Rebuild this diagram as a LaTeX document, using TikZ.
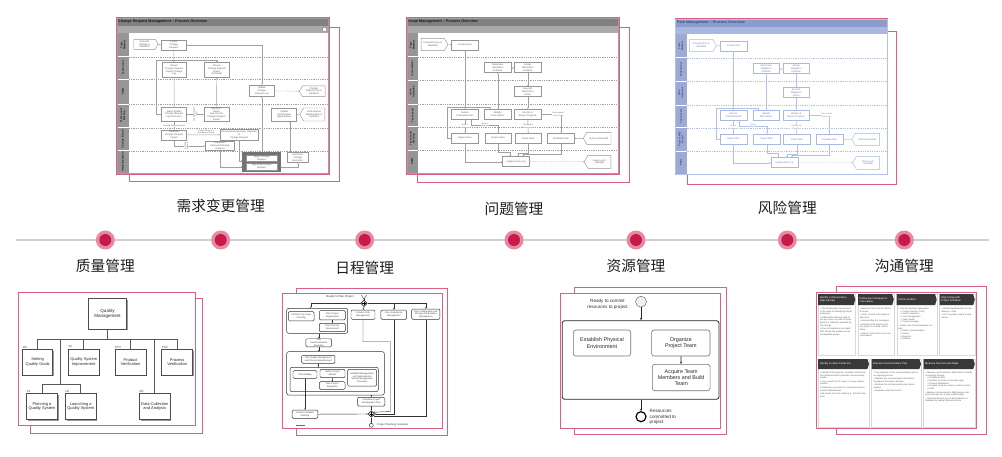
\documentclass[tikz,border=0pt]{standalone}
\usepackage{fontspec}
\setmainfont{Liberation Sans}
\newfontfamily\cjk{Noto Sans CJK SC}
\usetikzlibrary{shapes.symbols,shapes.geometric,arrows.meta,calc,shadows}
\definecolor{fpink}{RGB}{216,98,128}
\definecolor{dotin}{RGB}{198,26,74}
\definecolor{dotout}{RGB}{230,138,160}
\definecolor{tline}{RGB}{208,208,208}
\definecolor{lbl}{RGB}{30,30,30}
\definecolor{gHdr}{RGB}{128,128,128}
\definecolor{gBand}{RGB}{170,170,170}
\definecolor{gLane}{RGB}{150,150,150}
\definecolor{gBox}{RGB}{150,150,150}
\definecolor{gLn}{RGB}{160,160,160}
\definecolor{gTx}{RGB}{95,95,95}
\definecolor{gTtl}{RGB}{25,25,25}
\definecolor{bHdr}{RGB}{140,156,204}
\definecolor{bBand}{RGB}{170,183,222}
\definecolor{bLane}{RGB}{158,170,212}
\definecolor{bBox}{RGB}{170,185,225}
\definecolor{bLn}{RGB}{180,193,230}
\definecolor{bTx}{RGB}{110,125,180}
\definecolor{bTtl}{RGB}{60,75,140}
\colorlet{hdrc}{gHdr}\colorlet{bandc}{gBand}\colorlet{lanec}{gLane}
\colorlet{bxc}{gBox}\colorlet{lnc}{gLn}\colorlet{txc}{gTx}\colorlet{ttlc}{gTtl}
\newcommand\fs[2]{\fontsize{#1}{#2}\selectfont}
\tikzset{
  pframe/.style={draw=fpink,line width=0.9pt,fill=white},
  bframe/.style={draw=fpink,line width=0.9pt},
  tdot/.style={circle,fill=dotout,minimum size=19pt,inner sep=0pt},
  tdotin/.style={circle,fill=dotin,minimum size=12pt,inner sep=0pt},
  tlabel/.style={font=\cjk\fs{14.7}{16},text=lbl,inner sep=0pt},
  lbox/.style={draw=bxc,line width=0.45pt,fill=white,inner sep=0.4pt,font=\fs{2.4}{2.8},text=txc,align=center},
  lb/.style={lbox,minimum width=26.6pt,minimum height=10pt},
  lsigR/.style={lbox,signal,signal to=east,signal pointer angle=120},
  lsigL/.style={lbox,signal,signal to=west,signal pointer angle=120},
  lconn/.style={draw=lnc,line width=0.4pt,-{Stealth[length=1.4pt,width=1.2pt]}},
  lline/.style={draw=lnc,line width=0.4pt},
  ltiny/.style={font=\fs{1.9}{2.2},text=txc,align=center,inner sep=0.2pt,fill=white},
  lanelbl/.style={rotate=90,font=\bfseries\fs{2.6}{3},text=ttlc,align=center,inner sep=0pt},
  qbox/.style={draw=black!70,line width=0.5pt,fill=white,drop shadow={shadow xshift=1.2pt,shadow yshift=-1.2pt,fill=black!40,opacity=1},font=\fs{4}{4.6},align=center,inner sep=0.5pt,text=black!85},
  qline/.style={draw=black!65,line width=0.5pt},
  qlab/.style={font=\fs{3}{3.4},text=black!75,inner sep=0pt},
  sbox/.style={draw=black!80,line width=0.45pt,rounded corners=1.2pt,fill=white,font=\fs{2.3}{2.7},align=center,inner sep=0.3pt,text=black!75},
  sgrp/.style={draw=black!80,line width=0.5pt,rounded corners=2pt},
  sarr/.style={draw=black!80,line width=0.4pt,-{Stealth[length=1.5pt,width=1.3pt]}},
  sline/.style={draw=black!80,line width=0.4pt},
  rbox/.style={draw=black!55,line width=0.6pt,rounded corners=2.5pt,fill=white,font=\fs{5.4}{6.4},align=center,text=black!85,inner sep=0.5pt},
  rarr/.style={draw=black!85,line width=0.6pt,-{Stealth[length=2.4pt,width=2pt]}},
  cbody/.style={fill=white,draw=black!15,line width=0.3pt,drop shadow={shadow xshift=0.8pt,shadow yshift=-0.8pt,fill=black!30,opacity=1}},
  cbt/.style={font=\fs{2.2}{2.7},text=black!65,align=left,inner sep=0pt,anchor=north west},
}
\newcommand\chead[6]{%
 \fill[black!78] (#1,#3) -- ({#2-1.6},#3) -- (#2,{(#3+#4)/2}) -- ({#2-1.6},#4) -- (#1,#4) -- cycle;
 \node[anchor=west,font=\fs{2.6}{3},text=white,align=left,inner sep=0pt] (#5) at ({#1+1.5},{(#3+#4)/2}) {#6};}
\newcommand\lanediag[4]{%
 \fill[hdrc] (0.7,0.9) rectangle (212.3,8.4);
 \fill[bandc] (0.7,8.4) rectangle (212.3,16);
 \node[anchor=west,font=\bfseries\fs{3.7}{4.2},text=ttlc,inner sep=0pt] (ttl) at (2.5,4.7) {#1 Management -- Process Overview};
 \fill[lanec] (0.7,16) rectangle (12,156);
 \foreach \yy in {39.4,62.7,86.7,109.4,132.7}{%
   \draw[white,line width=0.6pt] (0.7,\yy) -- (12,\yy);
   \draw[lnc,line width=0.35pt,dash pattern=on 1pt off 0.8pt] (12,\yy) -- (212.3,\yy);}%
 \draw[lnc,line width=0.4pt] (0.7,0.9) rectangle (212.3,156);
 \node[lanelbl] (ln1) at (6.35,27.7) {Team\\Member};
 \node[lanelbl] (ln2) at (6.35,51.05) {#1 Owner};
 \node[lanelbl] (ln3) at (6.35,74.7) {#1\\Assignee};
 \node[lanelbl] (ln4) at (6.35,98.05) {Team Lead};
 \node[lanelbl] (ln5) at (6.35,121.05) {#3};
 \node[lanelbl] (ln6) at (6.35,144.35) {#4};
 \node[lsigR,minimum width=26.7pt,minimum height=12.4pt] (p1) at (26.7,27.2) {Potential #1 is\\Identified};
 \node[lb] (cre) at (59,27.7) {Create #1};
 \node[lb] (det) at (91.7,50.4) {Determine\\#2\\Activities};
 \node[lb] (asg) at (121.7,50.4) {Assign\\#2\\Activities};
 \node[lb] (exe) at (121.7,74.4) {Execute\\#2\\Action};
 \node[lb] (ass) at (59,97) {Assess\\Potential #1s};
 \node[lb] (idf) at (91.7,97) {Identify\\#1 Owner};
 \node[lb] (mon) at (121.7,97) {Monitor \&\\Report Progress};
 \node[lb] (rj1) at (59,121) {Reject #1};
 \node[lb] (rj2) at (92.3,121) {Reject #1};
 \node[lb] (cls) at (122.3,121) {Close #1};
 \node[lb] (esc) at (155,121) {Escalate #1};
 \node[lsigL,minimum width=27.7pt,minimum height=12pt] (p2) at (192.9,121) {#1 is Resolved};
 \node[lb] (upd) at (110,144.4) {Update #1 Log};
 \node[lsigL,minimum width=26.7pt,minimum height=13pt] (p3) at (193.4,144.5) {#1 Log is\\Updated};
 \draw[lconn] (p1) -- (cre);
 \draw[lconn] (cre) -- (ass);
 \draw[lconn] (idf) -- (det);
 \draw[lconn] (det) -- (asg);
 \draw[lconn] (asg) -- (exe);
 \draw[lconn] (exe) -- (mon);
 \draw[lconn] (rj1.west) -| (41.5,89.4) -| ([xshift=-7.7pt]idf.north);
 \draw[lconn] (ass) -- node[ltiny]{#1 is\\Confirmed} (rj1);
 \draw[lconn] ([xshift=6pt]ass.south) |- (92.3,107.8) -- (rj2.north);
 \node[ltiny] (lrj) at (79,107.8) {#1 is\\Rejected};
 \draw[lconn] (mon) -- node[ltiny]{Resolved \&\\Close #1} (cls);
 \draw[lconn] (mon.east) -| (esc.north);
 \node[ltiny] (lesc) at (152,97) {Not resolved\\in Due Time};
 \draw[lconn] (p2) -- (esc);
 \draw[lconn] (rj1.south) |- (upd.west);
 \draw[lconn] (rj2.south) |- ([xshift=-6pt,yshift=4.5pt]upd.north) -- ([xshift=-6pt]upd.north);
 \draw[lconn] (cls.south) |- ([xshift=2.3pt,yshift=3.5pt]upd.north) -- ([xshift=2.3pt]upd.north);
 \draw[lconn] (esc.south) |- ([xshift=7.3pt,yshift=2.5pt]upd.north) -- ([xshift=7.3pt]upd.north);
 \draw[lconn,dash pattern=on 1pt off 0.8pt] (upd) -- (p3);
}
\begin{document}
\begin{tikzpicture}[x=1pt,y=-1pt]
\useasboundingbox (0,0) rectangle (1002,456);

% ================= timeline =================
\draw[tline,line width=1.5pt] (15.7,240) -- (989.3,240);
\node[tdot] (d1) at (105.3,240) {};\node[tdotin] (d1c) at (d1) {};
\node[tdot] (d2) at (220.7,240) {};\node[tdotin] (d2c) at (d2) {};
\node[tdot] (d3) at (364.7,240) {};\node[tdotin] (d3c) at (d3) {};
\node[tdot] (d4) at (514,240) {};\node[tdotin] (d4c) at (d4) {};
\node[tdot] (d5) at (636,240) {};\node[tdotin] (d5c) at (d5) {};
\node[tdot] (d6) at (787.3,240) {};\node[tdotin] (d6c) at (d6) {};
\node[tdot] (d7) at (904.3,240) {};\node[tdotin] (d7c) at (d7) {};
\node[tlabel] (t1) at (105.3,266) {质量管理};
\node[tlabel] (t2) at (220.7,205.5) {需求变更管理};
\node[tlabel] (t3) at (364.7,267.5) {日程管理};
\node[tlabel] (t4) at (514,208.8) {问题管理};
\node[tlabel] (t5) at (636,266) {资源管理};
\node[tlabel] (t6) at (787.3,207.5) {风险管理};
\node[tlabel] (t7) at (904.3,266) {沟通管理};

% ================= Change Request thumbnail =================
\draw[bframe] (129,27) rectangle (339,181);
\draw[pframe] (116,17.3) rectangle (329,174);
\fill[gHdr] (116.8,18.2) rectangle (328.2,25.8);
\fill[gBand] (116.8,25.8) rectangle (328.2,33.3);
\node[anchor=west,font=\bfseries\fs{3.7}{4.2},text=gTtl,inner sep=0pt] (crt) at (118,22) {Change Request Management -- Process Overview};
\node[circle,draw=black!50,fill=white,line width=0.4pt,minimum size=4.5pt,inner sep=0pt] (cric) at (324.5,29.5) {};
\fill[gLane] (116.8,33.3) rectangle (129,173.3);
\foreach \yy in {56.7,79.3,104,127.7,150.7}{%
  \draw[white,line width=0.6pt] (116.8,\yy) -- (129,\yy);
  \draw[gLn,line width=0.35pt,dash pattern=on 1pt off 0.8pt] (129,\yy) -- (328.2,\yy);}
\draw[gLn,line width=0.4pt] (116.8,18.2) rectangle (328.2,173.3);
\node[lanelbl] (crl1) at (122.9,45) {Team\\Member};
\node[lanelbl] (crl2) at (122.9,68) {Team Lead};
\node[lanelbl] (crl3) at (122.9,91.65) {PMB};
\node[lanelbl] (crl4) at (122.9,115.85) {Team Lead\\Meeting};
\node[lanelbl] (crl5) at (122.9,139.2) {Change Board};
\node[lanelbl] (crl6) at (122.9,162) {Implementation};
\node[lsigR,minimum width=24.4pt,minimum height=10pt] (cr1) at (144.5,44.3) {Potential\\Change is\\Identified};
\node[lbox,minimum width=25.3pt,minimum height=10pt] (cr2) at (173.7,45) {Create\\Change\\Request};
\node[lbox,minimum width=24pt,minimum height=14.6pt] (cr3) at (174,70) {Review\\Change Request\\Impact Change\\Log};
\node[lbox,minimum width=25pt,minimum height=14.6pt] (cr4) at (216.8,70) {Review\\Change Request\\Impact\\(Detailed)};
\node[lbox,minimum width=24.7pt,minimum height=11.7pt] (cr5) at (261.7,90.8) {Update\\Change\\Request Log};
\node[lsigL,minimum width=25.7pt,minimum height=10.7pt] (cr6) at (313.8,91.3) {Change\\Request Log is\\Updated};
\node[lbox,minimum width=25pt,minimum height=14.7pt] (cr7) at (174.2,114.3) {Select Quality\\Change Request\\Input Decision};
\node[lbox,minimum width=25pt,minimum height=14.7pt] (cr8) at (216.5,114.3) {Replace /\\Reject\\Approve the\\Change Request\\Impact};
\node[lbox,minimum width=25pt,minimum height=13pt] (cr9) at (284.2,114.5) {Update\\Performance\\Mgt Baseline};
\node[lsigL,minimum width=25pt,minimum height=13pt] (cr10) at (314.2,114.5) {Performance\\Mgt Baseline is\\Updated};
\node[lbox,minimum width=25pt,minimum height=10pt] (cr11) at (174.2,135) {Evaluate\\Change Request\\Impact};
\node[lbox,minimum width=38.3pt,minimum height=10.7pt] (cr12) at (239.2,134.7) {Recommend Approval / Rejection\\of\\Change Request};
\node[lbox,minimum width=29.4pt,minimum height=8.3pt] (cr13) at (220,145.8) {Implement\\Approved Change\\Request};
\node[draw=black!55,fill=black!55,line width=0.5pt,minimum width=38pt,minimum height=19pt,inner sep=0pt] (cr14) at (261.7,162.2) {};
\node[lbox,minimum width=31pt,minimum height=6.5pt] (cr14a) at (261.7,158) {Reject Change\\Request};
\node[lbox,minimum width=31pt,minimum height=6.5pt] (cr14b) at (261.7,166.5) {Approved Change\\Request};
\node[lbox,minimum width=21pt,minimum height=10pt] (cr15) at (297.8,157.7) {Authorize\\Change\\Execution};
\draw[lconn] (cr1) -- (cr2);
\draw[lconn] (cr2.east) -| (cr5.north);
\draw[lconn] (cr2) -- (cr3);
\draw[lconn] (cr3) -- (cr7);
\draw[lconn] (cr7.west) -| (156,60) -| (cr4.north);
\draw[lconn] (cr7) -- (cr8);
\node[ltiny,rotate=90] (crlab1) at (195.3,114.3) {Change Request\\Input};
\draw[lconn] (cr8) -- (cr4);
\draw[lconn] (cr7) -- (cr11);
\node[ltiny] (crlab2) at (174.2,125.7) {Forward Change Request};
\draw[lconn] (cr11) -- (cr12);
\node[ltiny] (crlab3) at (206,132.2) {Change Request is\\forwarded to Board};
\draw[lconn] (cr11.south) |- (cr13.west);
\node[ltiny,rotate=90] (crlab4) at (186.5,146) {Change\\Request};
\draw[lconn] (cr12.south) |- ([yshift=1.5pt]cr14.west);
\draw[lconn] (cr13.south) |- ([yshift=-4.5pt]cr14.west);
\draw[lconn] ([yshift=-4.5pt]cr14.east) -| (cr15.south);
\draw[lconn] ([xshift=-7.8pt]cr15.north) -- ([xshift=5.8pt]cr9.south);
\draw[lconn] (cr10) -- (cr9);
\draw[lconn,dash pattern=on 1pt off 0.8pt] (cr5) -- (cr6);
\draw[lconn] (cr14.north) -- (cr5.south);

% ================= Issue thumbnail =================
\draw[bframe] (417,27) rectangle (629,182.7);
\draw[pframe] (406,17.3) rectangle (619,174);
\begin{scope}[shift={(406,17.3)}]
\lanediag{Issue}{Resolution}{Team Lead\\Meeting}{PMB}
\end{scope}

% ================= Risk thumbnail =================
\draw[bframe] (687.7,31.7) rectangle (896.7,184);
\draw[pframe] (675,18.3) rectangle (887.7,174);
\begin{scope}[shift={(674.5,18.3)}]
\colorlet{hdrc}{bHdr}\colorlet{bandc}{bBand}\colorlet{lanec}{bLane}
\colorlet{bxc}{bBox}\colorlet{lnc}{bLn}\colorlet{txc}{bTx}\colorlet{ttlc}{bTtl}
\lanediag{Risk}{Mitigation}{Project Mgt\\Board}{PMO}
\end{scope}

% ================= Quality thumbnail =================
\draw[bframe] (30.7,298.3) rectangle (202.3,433.7);
\draw[pframe] (18.3,292.3) rectangle (195.7,425);
\coordinate (qh) at (0,339.3);
\coordinate (q2) at (0,384);
\draw[qline] (107.5,329) -- (107.5,339.3);
\draw[qline] (37.7,339.3) -- (177.2,339.3);
\draw[qline] (60.7,339.3) -- (60.7,384);
\draw[qline] (42,384) -- (80.7,384);
\node[qbox,minimum width=38.4pt,minimum height=30.7pt,font=\fs{4.5}{5.2}] (qm) at (107.5,313.7) {Quality\\Management};
\node[qbox,minimum width=30pt,minimum height=25.7pt] (gs) at (37.7,362.2) {Setting\\Quality Goals};
\node[qbox,minimum width=30.7pt,minimum height=25.7pt] (qi) at (83.7,362.2) {Quality System\\Improvement};
\node[qbox,minimum width=31pt,minimum height=25.7pt] (ptv) at (130.5,362.2) {Product\\Verification};
\node[qbox,minimum width=31pt,minimum height=25.7pt] (psv) at (177.2,362.2) {Process\\Verification};
\node[qbox,minimum width=30.6pt,minimum height=26pt] (pl) at (42,406.3) {Planning a\\Quality System};
\node[qbox,minimum width=30.7pt,minimum height=26pt] (la) at (80.7,406.3) {Launching a\\Quality System};
\node[qbox,minimum width=30.7pt,minimum height=26pt] (dc) at (154.7,406.3) {Data Collection\\and Analysis};
\draw[qline] (gs.north) -- (gs.north |- qh);
\draw[qline] (qi.north) -- (qi.north |- qh);
\draw[qline] (ptv.north) -- (ptv.north |- qh);
\draw[qline] (psv.north) -- (psv.north |- qh);
\draw[qline] (pl.north) -- (pl.north |- q2);
\draw[qline] (la.north) -- (la.north |- q2);
\draw[qline] (dc.north) -- (dc.north |- qh);
\node[qlab,anchor=south west] (lgs) at (22.7,348.3) {GS};
\node[qlab,anchor=south west] (lqi) at (68.3,348.3) {QI};
\node[qlab,anchor=south west] (lptv) at (115,348.3) {PTV};
\node[qlab,anchor=south west] (lpsv) at (161.7,348.3) {PSV};
\node[qlab,anchor=south west] (lpl) at (26.7,392.3) {PL};
\node[qlab,anchor=south west] (lla) at (65.3,392.3) {LA};
\node[qlab,anchor=south west] (ldc) at (139.3,392.3) {DC};

% ================= Schedule thumbnail =================
\draw[bframe] (296,288.3) rectangle (447.7,435.7);
\draw[pframe] (282.3,293.3) rectangle (442.3,428.3);
\node[sgrp,minimum width=61pt,minimum height=25pt] (g1) at (317.2,320.8) {};
\node[sgrp,minimum width=97.6pt,minimum height=43.3pt] (g2) at (335.5,373.35) {};
\node[sgrp,minimum width=88.3pt,minimum height=24.4pt] (g3) at (334.15,379.5) {};
\node[font=\fs{2.8}{3.2},text=black!80,inner sep=0pt] (rtp) at (340,296.3) {Ready to Plan Project};
\coordinate (st) at (364,299.3);
\draw[sline] (361.5,295) -- (st) -- (366.5,295);
\node[diamond,draw=black,fill=white,line width=0.5pt,minimum size=6.5pt,inner sep=0pt] (fork) at (364,303.3) {};
\draw[line width=0.8pt] (362.3,303.3) -- (365.7,303.3) (364,301.6) -- (364,305);
\draw[sline] (st) -- (fork.north);
\node[sbox,minimum width=25.7pt,minimum height=9.3pt] (g1a) at (301.2,316.3) {Perform Cap Level\\Planning};
\node[sbox,minimum width=26pt,minimum height=9.3pt] (g1b) at (332.3,315.3) {Plan Project\\Organization};
\node[sbox,minimum width=26pt,minimum height=8.4pt] (g1c) at (332.3,327.5) {Plan Physical\\Environment};
\node[sbox,minimum width=24pt,minimum height=9.3pt] (risk) at (363,314.7) {Conduct Risk\\Management};
\node[sbox,minimum width=25.7pt,minimum height=9.3pt] (acc) at (393.8,314.7) {Plan Acceptance\\Management};
\node[sbox,minimum width=28.3pt,minimum height=10.3pt] (cfg) at (425.8,314.2) {Plan Configuration and\\Change and Baseline\\Management};
\node[sbox,minimum width=25.7pt,minimum height=7.7pt] (comm) at (318.8,342.8) {Plan\\Communications\\Reporting};
\node[sbox,minimum width=33.3pt,minimum height=8pt] (qual) at (318.3,359.3) {Plan Quality Management\\and Process Improvement};
\node[sbox,minimum width=24pt,minimum height=7.6pt] (staff) at (305,374.5) {Plan Staffing};
\node[sbox,minimum width=25pt,minimum height=8.4pt] (models) at (332.5,373.5) {Define Project\\Models};
\node[sbox,minimum width=25.7pt,minimum height=7.6pt] (integ) at (332.2,385.5) {Plan Project\\Integration};
\node[sbox,minimum width=29pt,minimum height=16.7pt] (estab) at (362.2,377.7) {Establish Management\\and Subcontractor\\Vendor Management\\Processes};
\node[sbox,minimum width=27.3pt,minimum height=8.7pt] (cpmp) at (371.3,401.7) {Complete Project\\Management Plan};
\node[sbox,minimum width=25.6pt,minimum height=8.3pt] (pdp) at (305,414.2) {Perform Detailed\\Planning};
\node[diamond,draw=black,fill=white,line width=0.5pt,minimum size=6.5pt,inner sep=0pt] (join) at (371.3,414) {};
\draw[line width=0.8pt] (369.6,414) -- (373,414) (371.3,412.3) -- (371.3,415.7);
\node[circle,draw=black!80,line width=0.5pt,minimum size=4pt,inner sep=0pt] (endc) at (371.3,425.3) {};
\node[anchor=west,font=\fs{2.6}{3},text=black!80,inner sep=0pt] (ppc) at (377,425.3) {Project Planning Complete};
\fill[black!60] (295.7,424.6) rectangle (305,426.2);
\draw[sarr] (fork.west) -| ([xshift=-6.5pt]g1.north);
\draw[sarr] (fork.south) -- (risk.north);
\draw[sarr] (fork.east) -| (acc.north);
\draw[sarr] (fork.east) -| (cfg.north);
\draw[sarr] (g1b) -- (g1c);
\draw[sarr] (comm.north |- g1.south) -- (comm.north);
\draw[sarr] (comm.south) -- (comm.south |- g2.north);
\draw[sarr] (qual.south) -- (qual.south |- g3.north);
\draw[sarr] (models) -- (integ);
\draw[sarr] (cpmp.north |- g2.south) -- (cpmp.north);
\draw[sarr] (cpmp.south) -- (join.north);
\draw[sarr] (staff.south) -- (pdp.north);
\draw[sarr] (pdp.east) -- (join.west);
\draw[sarr] (risk.south) |- (390.5,341.7) -- (390.5,411.5) -- (join.north east);
\draw[sarr] (acc.south) |- (join.east);
\draw[sarr] (cfg.south) |- (join.south east);
\draw[sarr] (join.south) -- (endc.north);

% ================= Resource thumbnail =================
\draw[bframe] (574.3,287.3) rectangle (726,434.3);
\draw[pframe] (560,293.3) rectangle (720.3,428.3);
\node[circle,draw=black!55,fill=black!6,line width=0.5pt,minimum size=11pt,inner sep=0pt] (rs) at (641,301.7) {};
\node[font=\fs{4.6}{5.6},align=center,text=black!80,inner sep=0pt] (rst) at (607.5,304.5) {Ready to commit\\resources to project};
\node[draw=black!85,line width=0.8pt,rounded corners=2.5pt,minimum width=156.7pt,minimum height=78.6pt,inner sep=0pt] (rbig) at (640.65,360) {};
\node[rbox,minimum width=57.4pt,minimum height=26pt] (rest) at (602,343) {Establish Physical\\Environment};
\node[rbox,minimum width=58.3pt,minimum height=26pt] (rorg) at (680.8,343) {Organize\\Project Team};
\node[rbox,minimum width=57.7pt,minimum height=26.4pt] (racq) at (681.2,377.5) {Acquire Team\\Members and Build\\Team};
\node[circle,draw=black,line width=1.2pt,minimum size=10pt,inner sep=0pt] (re) at (641,416.7) {};
\node[anchor=west,font=\fs{4.6}{5.4},align=left,text=black!80,inner sep=0pt] (ret) at (649.5,417) {Resources\\committed to\\project};
\draw[rarr] (rs.south) -- (rs.south |- rbig.north);
\draw[rarr] (rorg) -- (racq);
\draw[rarr] (re.north |- rbig.south) -- (re.north);

% ================= Communication thumbnail =================
\draw[bframe] (836,286) rectangle (986.7,434);
\draw[pframe] (816.7,292.7) rectangle (976,428.3);
\path[cbody] (818.2,294.2) rectangle (855.3,355);
\path[cbody] (858,294.2) rectangle (893.8,355);
\path[cbody] (896.7,294.2) rectangle (936.7,355);
\path[cbody] (939.5,294.2) rectangle (974.8,355);
\path[cbody] (818.2,359) rectangle (869,426.8);
\path[cbody] (871.5,359) rectangle (921,426.8);
\path[cbody] (923.5,359) rectangle (974.8,426.8);
\chead{818.2}{855.3}{294.2}{305}{ch1}{Identify communication\\target groups}
\chead{858}{893.8}{294.2}{305}{ch2}{Define key messages \&\\core values}
\chead{896.7}{936.7}{294.2}{305}{ch3}{Define senders}
\chead{939.5}{974.8}{294.2}{305}{ch4}{Align timing with\\Project Schedule}
\chead{818.2}{869}{359}{369}{ch5}{Identify \& select media mix}
\chead{871.5}{921}{359}{369}{ch6}{Execute Communication Plan}
\chead{923.5}{974.8}{359}{369}{ch7}{Measure Success and Adapt}
\node[cbt,text width=33pt] (cb1) at (820,307.5) {\textbullet\ The Stakeholder Assessment is the basis for identifying target audiences\\[0.8pt]
\textbullet\ Differentiate between high to low key users, as well as those directly \& indirectly impacted by the change\\[0.8pt]
\textbullet\ Once all audiences are identified, cluster the audiences into manageable groups};
\node[cbt,text width=32pt] (cb2) at (859.8,307.5) {\textbullet\ Based on the Case for Action \& Scope\\[0.8pt]
\textbullet\ Clear, concise and easily understood\\[0.8pt]
\textbullet\ Incorporating the messages\\[0.8pt]
\textbullet\ Defined at the beginning of the project to ensure consistency\\[0.8pt]
\textbullet\ Used in some form in all communications};
\node[cbt,text width=36pt] (cb3) at (898.5,307.5) {\textbullet\ Use the existing organisation:\\
\hspace*{2pt}o\ Project sponsor (CxO)\\
\hspace*{2pt}o\ Senior executive\\
\hspace*{2pt}o\ Line management\\
\hspace*{2pt}o\ Team leader\\
\hspace*{2pt}o\ Project manager\\[0.8pt]
\textbullet\ Clarify role of communication expert:\\
\hspace*{2pt}o\ Author communication\\
\hspace*{2pt}o\ Coach\\
\hspace*{2pt}o\ Reporter\\
\hspace*{2pt}o\ Enabler};
\node[cbt,text width=31pt] (cb4) at (941.3,307.5) {\textbullet\ Identify dependencies for the delivery in time\\[0.8pt]
\textbullet\ Link to project events \& milestones};
\node[cbt,text width=46pt] (cb5) at (820,371.5) {\textbullet\ Identify fit-for-purpose, reusable communication media and their potential communication modes\\[0.8pt]
\textbullet\ Use a good mix of 1-way vs 2-way communication\\[0.8pt]
\textbullet\ Determine a process for measuring communication effectiveness\\[0.8pt]
\textbullet\ Be aware of social media (e.g. internal Yammer)};
\node[cbt,text width=45pt] (cb6) at (873.3,371.5) {\textbullet\ The execution of the communication plan is an ongoing process\\[0.8pt]
\textbullet\ Maintain the communication momentum throughout the project lifecycle\\[0.8pt]
\textbullet\ Enhance the communication plan where needed\\[0.8pt]
\textbullet\ Celebrate small successes};
\node[cbt,text width=47pt] (cb7) at (925.3,371.5) {\textbullet\ Measure communication effectiveness directly \& regularly through:\\
\hspace*{2pt}o\ Feedback forms\\
\hspace*{2pt}o\ Number of visitors to intranet page\\
\hspace*{2pt}o\ Training attendance\\
\hspace*{2pt}o\ Number of issues raised, e-mail accounts\\
\hspace*{2pt}o\ Polls\\[0.8pt]
\textbullet\ Measure communication effectiveness indirectly through site \& peer walkthroughs\\[0.8pt]
\textbullet\ Demonstrate that you've paid attention to feedback by taking follow-up actions};
\end{tikzpicture}
\end{document}
